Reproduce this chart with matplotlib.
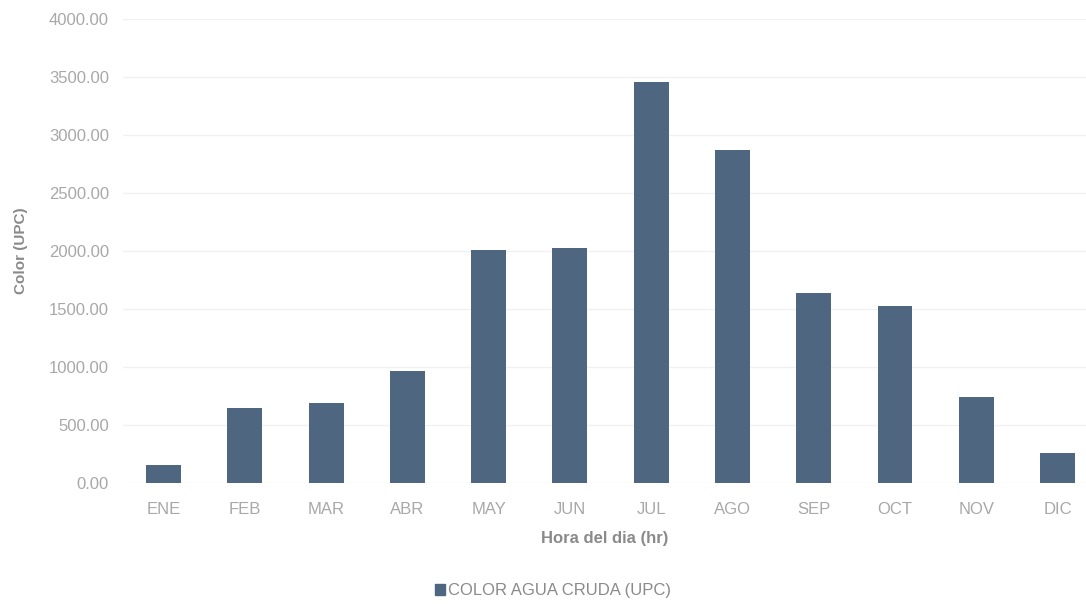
import matplotlib
matplotlib.use("Agg")
import matplotlib.pyplot as plt
from matplotlib.ticker import FuncFormatter, MultipleLocator
from matplotlib.patches import Patch

months = ["ENE", "FEB", "MAR", "ABR", "MAY", "JUN", "JUL", "AGO", "SEP", "OCT", "NOV", "DIC"]
color_upc = [155, 647, 690, 966, 2009, 2026, 3457, 2871, 1638, 1526, 741, 259]
series_name = "COLOR AGUA CRUDA (UPC)"

plt.rcParams['font.family'] = ['Liberation Sans', 'DejaVu Sans']
bar_color = "#4e6680"
tick_color = "#a8a8a8"
label_color = "#8a8a8a"

fig = plt.figure(figsize=(10.86, 6.04), dpi=100)
ax = fig.add_axes([123/1086, 1 - 483/604, 1 - 123/1086, (483 - 19)/604])
x = list(range(len(months)))
ax.bar(x, color_upc, width=0.43, color=bar_color, zorder=3)
ax.set_xlim(-0.5, 11.35)
ax.set_ylim(0, 4000)
ax.yaxis.set_major_locator(MultipleLocator(500))
ax.yaxis.set_major_formatter(FuncFormatter(lambda v, p: f"{v:.2f}"))
ax.set_xticks(x)
ax.set_xticklabels(months)
ax.tick_params(axis='both', length=0, colors=tick_color, labelsize=12)
ax.tick_params(axis='x', pad=14)
ax.tick_params(axis='y', pad=10)
for s in ax.spines.values():
    s.set_visible(False)
ax.grid(axis='y', color="#f1f1f1", linewidth=1, zorder=0)
ax.set_xlabel("Hora del dia (hr)", fontsize=12, fontweight='bold', color=label_color, labelpad=10)
ax.set_ylabel("Color (UPC)", fontsize=11, fontweight='bold', color=label_color)
ax.yaxis.set_label_coords(-0.099, 0.5)

fig.legend(handles=[Patch(color=bar_color, label=series_name)], loc='center',
           bbox_to_anchor=(553/1086, 1 - 591/604), frameon=False, fontsize=12,
           labelcolor=label_color, handlelength=0.6, handleheight=0.6, handletextpad=0.2)

fig.savefig("out.png", dpi=100, facecolor="white")
